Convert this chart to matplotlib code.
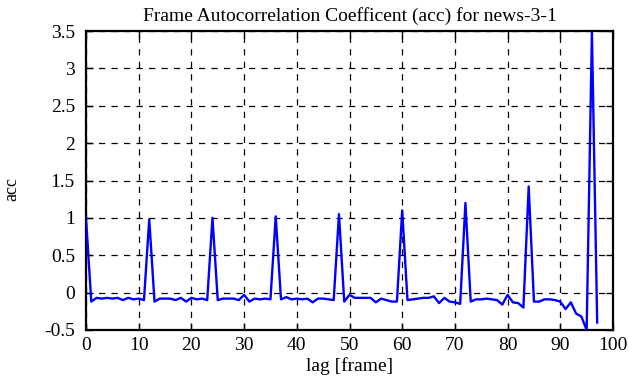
import matplotlib.pyplot as plt

plt.rcParams['font.family'] = ['Liberation Serif', 'DejaVu Serif']

lag = list(range(98))
acc = [1.0, -0.12, -0.07, -0.08, -0.07, -0.08, -0.07, -0.1, -0.07, -0.09,
       -0.08, -0.1, 0.98, -0.12, -0.08, -0.08, -0.08, -0.1, -0.07, -0.12,
       -0.07, -0.09, -0.08, -0.1, 1.0, -0.1, -0.08, -0.08, -0.08, -0.1,
       -0.03, -0.12, -0.08, -0.09, -0.08, -0.09, 1.02, -0.09, -0.06, -0.09,
       -0.08, -0.09, -0.08, -0.13, -0.08, -0.08, -0.09, -0.1, 1.05, -0.12,
       -0.03, -0.07, -0.07, -0.07, -0.07, -0.13, -0.08, -0.1, -0.12, -0.12,
       1.1, -0.1, -0.09, -0.08, -0.07, -0.07, -0.05, -0.14, -0.07, -0.12,
       -0.13, -0.15, 1.2, -0.12, -0.09, -0.09, -0.08, -0.09, -0.1, -0.16,
       -0.03, -0.13, -0.14, -0.2, 1.42, -0.12, -0.12, -0.09, -0.09, -0.1,
       -0.12, -0.22, -0.13, -0.28, -0.32, -0.5, 3.48, -0.4]

xticks = list(range(0, 101, 10))
yticks = [-0.5, 0, 0.5, 1, 1.5, 2, 2.5, 3, 3.5]
yticklabels = ['-0.5', '0', '0.5', '1', '1.5', '2', '2.5', '3', '3.5']

fig = plt.figure(figsize=(6.29, 3.87), dpi=100)
ax = fig.add_axes([86 / 629, 1 - 330 / 387, 527 / 629, 299 / 387])
ax.plot(lag, acc, color='#0000ff', lw=1.7, zorder=3)

ax.set_xlim(0, 100)
ax.set_ylim(-0.5, 3.5)
ax.set_xticks(xticks)
ax.set_yticks(yticks)
ax.set_yticklabels(yticklabels)
ax.tick_params(direction='in', top=True, right=True, length=5, width=1,
               labelsize=14, pad=8)
ax.tick_params(axis='x', pad=5)
ax.grid(True, color='black', linestyle=(0, (5, 5)), linewidth=0.9)
for s in ax.spines.values():
    s.set_linewidth(1.6)

ax.set_title('Frame Autocorrelation Coefficent (acc) for news-3-1',
             fontsize=14, pad=7)
ax.set_xlabel('lag [frame]', fontsize=14, labelpad=2)
ax.set_ylabel('acc', fontsize=13)
ax.yaxis.set_label_coords(-0.125, 0.47)

fig.savefig('out.png', dpi=100)
